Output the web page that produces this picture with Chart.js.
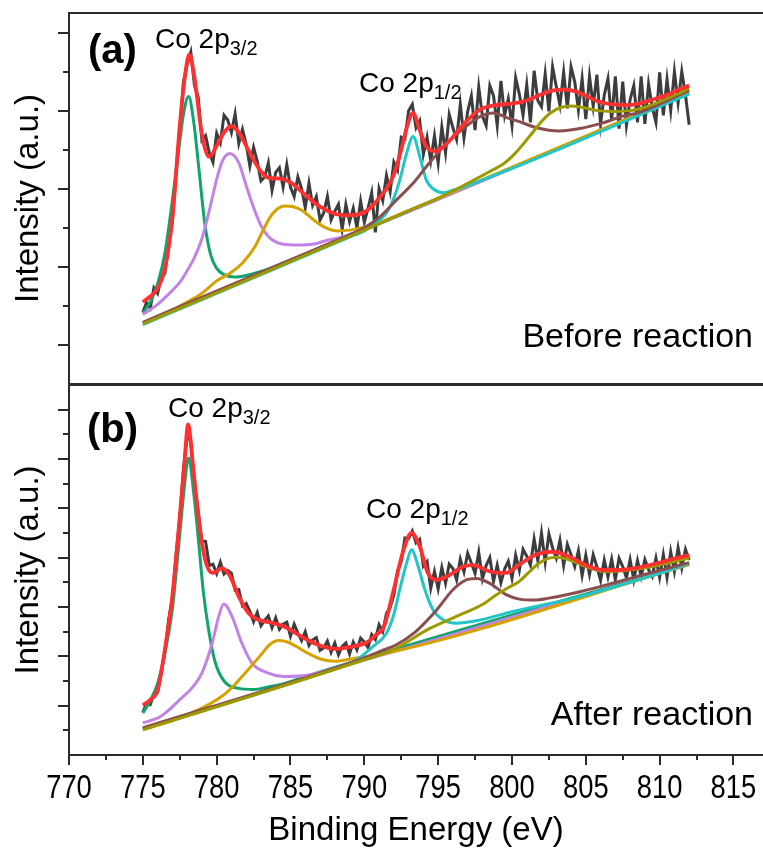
<!DOCTYPE html>
<html>
<head>
<meta charset="utf-8">
<script src="https://cdn.jsdelivr.net/npm/chart.js@4.4.1/dist/chart.umd.min.js"></script>
<style>
html, body { margin: 0; padding: 0; background: #fff; }
#wrap { position: relative; width: 763px; height: 849px; overflow: hidden; }
#panelA { position: absolute; left: 0; top: 0; }
#panelB { position: absolute; left: 0; top: 385px; }
</style>
</head>
<body>
<div id="wrap">
<canvas id="panelA" width="763" height="385"></canvas>
<canvas id="panelB" width="763" height="464"></canvas>
</div>
<script>
// x grid of the measured spectra (775 - 812 eV, 0.25 eV steps)
const energyStart = 775;
const energyStep = 0.25;

// measured counts, panel (a) before reaction
const rawBefore = [
  0.42,0.54,0.47,0.73,0.66,0.86,0.92,1.30,1.57,2.21,2.73,3.37,3.59,3.75,3.32,3.17,
  2.62,2.68,2.46,2.34,2.71,2.59,2.94,2.88,2.72,2.96,2.58,2.76,2.57,2.29,2.53,2.35,
  2.10,2.15,2.33,1.98,2.21,2.27,2.02,2.31,2.02,1.90,2.15,2.00,1.76,2.07,1.79,1.90,
  1.60,1.69,1.90,1.60,1.71,1.80,1.48,1.80,1.58,1.75,1.50,1.84,1.57,1.75,1.95,1.44,
  2.00,1.85,2.17,1.96,2.34,2.24,2.66,2.64,3.00,3.08,2.78,2.87,2.44,2.66,2.36,2.68,
  2.33,2.79,2.46,2.95,2.78,2.63,3.08,2.65,2.99,3.19,2.75,3.30,2.93,2.81,3.32,3.19,
  2.81,3.38,2.94,3.15,2.81,3.42,3.21,2.94,3.33,2.85,3.51,3.13,3.05,3.47,2.99,3.56,
  3.31,3.07,3.49,3.03,3.56,3.37,3.01,3.41,2.89,3.44,3.06,3.46,2.83,3.20,3.41,2.88,
  3.44,2.77,3.37,2.81,3.14,3.32,2.85,3.44,2.83,3.34,3.04,2.85,3.49,2.94,3.40,3.00,
  3.50,3.10,3.50,3.20,2.82
];

// measured counts, panel (b) after reaction
const rawAfter = [
  0.87,1.04,1.02,1.24,1.27,1.65,2.09,2.75,3.17,4.06,4.77,5.80,6.45,6.36,5.47,4.95,
  4.34,4.33,3.84,3.87,3.68,3.91,3.67,3.74,3.68,3.34,3.35,3.02,3.07,2.91,2.70,2.89,
  2.62,2.73,2.82,2.58,2.78,2.55,2.65,2.69,2.41,2.65,2.47,2.32,2.50,2.22,2.33,2.38,
  2.12,2.17,2.31,2.08,2.27,2.03,2.20,2.27,2.05,2.29,2.13,2.37,2.29,2.18,2.44,2.34,
  2.64,2.50,2.87,2.99,3.24,3.73,3.92,4.40,4.39,4.54,4.30,4.37,3.83,3.92,3.38,3.72,
  3.37,3.80,3.48,3.87,3.78,3.55,3.97,3.71,4.09,3.89,3.68,4.11,3.57,3.84,4.00,3.52,
  3.85,3.49,3.77,3.93,3.58,4.05,3.74,4.17,4.03,3.85,4.38,3.94,4.50,3.91,4.48,4.20,
  3.99,4.35,3.84,4.27,4.06,3.82,4.14,3.64,4.05,3.66,4.06,3.82,3.54,3.95,3.61,3.97,
  3.55,3.99,3.82,3.59,3.96,3.55,3.94,3.62,3.96,3.76,3.62,3.99,3.60,4.06,3.60,4.12,
  3.72,4.20,3.79,4.17,3.95
];

// fitted curves, [eV, intensity]
const beforeEnvelope = [[775,0.55],[775.5,0.62],[776,0.72],[776.5,0.98],[777,1.62],[777.5,2.80],[777.8,3.36],[778.15,3.72],[778.5,3.42],[779,2.70],[779.5,2.41],[780,2.55],[780.5,2.72],[781,2.80],[781.5,2.72],[782,2.55],[782.5,2.37],[783,2.22],[783.5,2.14],[784.3,2.13],[785,2.08],[786,1.92],[787,1.77],[788,1.68],[789,1.66],[790,1.70],[790.5,1.77],[791,1.88],[791.5,2.00],[792,2.18],[792.5,2.50],[792.9,2.80],[793.3,2.97],[793.75,2.75],[794.2,2.54],[794.8,2.48],[795.6,2.58],[796.7,2.82],[797.8,3.01],[798.9,3.07],[800,3.09],[801,3.13],[802,3.21],[802.8,3.26],[803.6,3.27],[804.4,3.24],[805,3.19],[805.8,3.12],[806.8,3.08],[807.7,3.07],[808.6,3.09],[809.5,3.14],[810.6,3.21],[811.3,3.27],[812,3.32]];
const beforeP32 = [[775,0.41],[775.5,0.55],[776,0.78],[776.5,1.18],[777,1.85],[777.4,2.45],[777.75,2.95],[778.1,3.18],[778.45,2.85],[778.8,2.25],[779.2,1.55],[779.6,1.15],[780,0.98],[780.5,0.90],[781.2,0.87],[782,0.89],[783,0.94],[784,1.01],[812,3.23]];
const beforeSat1 = [[775,0.39],[776,0.52],[776.8,0.66],[777.5,0.80],[778,0.95],[778.5,1.12],[779,1.36],[779.5,1.72],[780,2.12],[780.4,2.36],[780.9,2.45],[781.5,2.33],[782,2.04],[782.5,1.76],[783,1.53],[783.5,1.39],[784,1.32],[784.5,1.29],[785.5,1.28],[786.5,1.29],[787.5,1.34],[788.5,1.38],[789.5,1.45],[790.5,1.52],[812,3.23]];
const beforeSat2 = [[775,0.28],[777,0.45],[778,0.55],[779,0.66],[780,0.82],[781,0.93],[781.8,1.06],[782.6,1.26],[783.1,1.45],[783.6,1.63],[784.1,1.74],[784.6,1.78],[785.2,1.77],[785.8,1.72],[786.7,1.58],[787.4,1.50],[788.2,1.46],[789,1.47],[789.8,1.50],[790.6,1.53],[791.5,1.60],[812,3.23]];
const beforeP12 = [[775,0.26],[785,1.06],[789,1.38],[790,1.46],[790.8,1.56],[791.5,1.69],[791.96,1.86],[792.4,2.11],[792.86,2.45],[793.3,2.67],[793.76,2.41],[794.2,2.11],[794.66,2.00],[795.3,1.95],[796,1.98],[797,2.04],[812,3.21]];
const beforeSat3 = [[775,0.29],[788,1.33],[789,1.41],[790,1.50],[791.06,1.64],[792.2,1.86],[793.3,2.07],[794.4,2.33],[795.57,2.58],[796.7,2.77],[797.8,2.92],[798.7,2.97],[799.8,2.90],[800.5,2.86],[801.5,2.79],[802.5,2.75],[803.2,2.74],[804.6,2.77],[806.1,2.84],[807.7,2.94],[808.5,2.97],[812,3.26]];
const beforeSat4 = [[775,0.27],[790,1.47],[793,1.72],[795,1.88],[796.2,1.99],[797.5,2.12],[798.5,2.22],[799.5,2.33],[800.2,2.45],[800.8,2.58],[801.4,2.72],[802,2.86],[802.6,2.97],[803.3,3.04],[804,3.06],[804.8,3.04],[805.8,3.00],[806.8,2.99],[808,3.00],[809.1,3.05],[810.2,3.13],[811.2,3.21],[812,3.29]];

const afterEnvelope = [[775,1.01],[775.5,1.12],[776,1.32],[776.5,2.15],[777,3.22],[777.45,4.65],[777.8,5.85],[778.07,6.70],[778.38,5.92],[778.7,5.00],[779,4.29],[779.45,3.76],[779.8,3.69],[780.35,3.79],[780.9,3.63],[781.5,3.21],[782.15,2.88],[782.85,2.74],[783.75,2.68],[784.6,2.60],[785.75,2.40],[786.9,2.23],[788,2.15],[789,2.19],[790.15,2.28],[790.8,2.44],[791.3,2.58],[791.95,3.30],[792.6,4.10],[793.2,4.50],[793.75,4.23],[794.3,3.69],[794.9,3.55],[795.6,3.62],[796.7,3.82],[797.35,3.85],[798.5,3.72],[799.6,3.69],[800.5,3.86],[801.6,4.06],[802.7,4.12],[803.9,4.02],[805,3.85],[806.2,3.75],[807.3,3.75],[808.4,3.79],[810,3.90],[811,3.98],[812,4.05]];
const afterP32 = [[775,0.85],[775.5,1.10],[776,1.45],[776.5,2.08],[777,2.96],[777.4,4.15],[777.75,5.25],[778.1,6.02],[778.45,5.30],[778.8,4.25],[779.1,3.30],[779.45,2.55],[779.9,1.88],[780.5,1.50],[781.5,1.35],[782.5,1.33],[783.5,1.38],[784.5,1.44],[786,1.59],[812,3.87]];
const afterSat1 = [[775,0.65],[776.2,0.78],[777.5,1.12],[778.3,1.35],[779,1.66],[779.7,2.27],[780.14,2.81],[780.48,3.06],[781.04,2.81],[781.7,2.27],[782.4,1.86],[783.5,1.66],[784.6,1.59],[786.2,1.62],[788,1.76],[789,1.84],[812,3.86]];
const afterSat2 = [[775,0.54],[777,0.70],[779,0.95],[780.4,1.20],[781.2,1.42],[782.1,1.72],[783,2.03],[783.6,2.24],[784.2,2.32],[784.8,2.29],[785.4,2.20],[786.2,2.06],[787.1,1.94],[788,1.90],[789,1.94],[790,1.99],[791,2.03],[812,3.86]];
const afterP12 = [[775,0.52],[786,1.55],[788.5,1.80],[789.5,1.93],[790.6,2.20],[791.5,2.47],[791.96,2.81],[792.4,3.35],[792.86,3.89],[793.2,4.16],[793.65,3.82],[794.1,3.35],[794.66,2.94],[795.34,2.74],[796.24,2.67],[797.6,2.72],[800.07,2.91],[804.6,3.21],[809.1,3.60],[812,3.88]];
const afterSat3 = [[775,0.55],[787,1.66],[789,1.86],[790,1.97],[791.06,2.10],[792.2,2.24],[793.4,2.48],[794.9,2.94],[796,3.35],[796.9,3.55],[797.6,3.58],[798.5,3.48],[799.6,3.25],[800.5,3.16],[801.5,3.14],[802.5,3.18],[804.6,3.31],[806.8,3.48],[808.6,3.63],[810,3.74],[812,3.90]];
const afterSat4 = [[775,0.51],[790,1.93],[792,2.14],[794.4,2.56],[796.7,2.87],[798,3.05],[798.95,3.25],[799.8,3.40],[800.5,3.52],[801.2,3.72],[801.8,3.88],[802.4,3.98],[803,4.01],[803.6,3.98],[804.2,3.92],[805.25,3.79],[806.4,3.72],[807.7,3.74],[809.5,3.82],[812,3.99]];

// ticks
const xMajorTicks = [770, 775, 780, 785, 790, 795, 800, 805, 810, 815];
const xMinorTicks = [772.5, 777.5, 782.5, 787.5, 792.5, 797.5, 802.5, 807.5, 812.5];
const yMajorBefore = [0, 1, 2, 3, 4];
const yMinorBefore = [0.5, 1.5, 2.5, 3.5];
const yMajorAfter = [1, 2, 3, 4, 5, 6, 7];
const yMinorAfter = [0.5, 1.5, 2.5, 3.5, 4.5, 5.5, 6.5];

const energy = rawBefore.map((_, i) => energyStart + i * energyStep);

const FONT = "'Liberation Sans', Arial, sans-serif";

const colors = {
    raw: '#3d3d3d',
    envelope: '#ff3030',
    p32: '#10a56e',
    sat1: '#c283e6',
    sat2: '#d6a200',
    p12: '#22c6c8',
    sat3: '#8a4e4e',
    sat4: '#9c9a00'
};

function pairs(list) {
    return list.map(p => ({x: p[0], y: p[1]}));
}

function fitLine(list, color, order, width) {
    return {
        data: pairs(list),
        borderColor: color,
        borderWidth: width || 3,
        pointRadius: 0,
        cubicInterpolationMode: 'monotone',
        fill: false,
        order: order
    };
}

function buildDatasets(raw, env, p32, s1, s2, p12, s3, s4) {
    return [
        fitLine(env, colors.envelope, 1, 3.8),
        fitLine(s4, colors.sat4, 4),
        fitLine(s3, colors.sat3, 5),
        fitLine(p12, colors.p12, 6),
        fitLine(s2, colors.sat2, 7),
        fitLine(s1, colors.sat1, 8),
        fitLine(p32, colors.p32, 9),
        {
            data: raw.map((v, i) => ({x: energy[i], y: v})),
            borderColor: colors.raw,
            borderWidth: 3,
            pointRadius: 0,
            tension: 0,
            fill: false,
            order: 20
        }
    ];
}

// frame, tick marks, tick labels and the text labels
const decor = {
    id: 'decor',
    afterDraw(chart, args, o) {
        const ctx = chart.ctx;
        const a = chart.chartArea;
        const xs = chart.scales.x;
        const ys = chart.scales.y;
        ctx.save();
        ctx.strokeStyle = '#2b2b2b';
        ctx.lineWidth = 2;
        ctx.beginPath();
        ctx.moveTo(a.right + 4, a.top);
        ctx.lineTo(a.left, a.top);
        ctx.lineTo(a.left, a.bottom);
        ctx.lineTo(a.right + 4, a.bottom);
        ctx.stroke();

        ctx.beginPath();
        o.yMajor.forEach(v => {
            const py = Math.round(ys.getPixelForValue(v));
            ctx.moveTo(a.left - 11, py); ctx.lineTo(a.left, py);
        });
        o.yMinor.forEach(v => {
            const py = Math.round(ys.getPixelForValue(v));
            ctx.moveTo(a.left - 6, py); ctx.lineTo(a.left, py);
        });
        if (o.xTicks) {
            xMajorTicks.forEach(v => {
                const px = Math.round(xs.getPixelForValue(v));
                ctx.moveTo(px, a.bottom); ctx.lineTo(px, a.bottom + 10);
            });
            xMinorTicks.forEach(v => {
                const px = Math.round(xs.getPixelForValue(v));
                ctx.moveTo(px, a.bottom); ctx.lineTo(px, a.bottom + 5);
            });
        }
        ctx.stroke();

        ctx.fillStyle = '#000';
        ctx.textBaseline = 'alphabetic';
        if (o.xTicks) {
            // condensed tick numbers, like the original figure
            ctx.font = '33px ' + FONT;
            ctx.textAlign = 'center';
            xMajorTicks.forEach(v => {
                const px = xs.getPixelForValue(v);
                ctx.save();
                ctx.translate(px, a.bottom + 43);
                ctx.scale(0.83, 1);
                ctx.fillText(String(v), 0, 0);
                ctx.restore();
            });
        }
        o.labels.forEach(l => {
            ctx.font = l.font || ('28px ' + FONT);
            ctx.textAlign = l.align || 'left';
            ctx.fillText(l.text, l.x, l.y);
            if (l.sub) {
                const w = ctx.measureText(l.text).width;
                ctx.font = '20px ' + FONT;
                ctx.textAlign = 'left';
                ctx.fillText(l.sub, l.x + w, l.y + 7);
            }
        });
        ctx.restore();
    }
};

function yAxis(min, max) {
    return {
        type: 'linear',
        min: min,
        max: max,
        grid: {display: false, drawTicks: false},
        border: {display: false},
        ticks: {display: false},
        title: {
            display: true,
            text: 'Intensity (a.u.)',
            color: '#000',
            font: {family: FONT, size: 33},
            padding: {top: 9, bottom: 0}
        },
        afterFit(s) { s.width = 69; }
    };
}

new Chart(document.getElementById('panelA'), {
    type: 'line',
    data: {datasets: buildDatasets(rawBefore, beforeEnvelope, beforeP32, beforeSat1, beforeSat2, beforeP12, beforeSat3, beforeSat4)},
    options: {
        responsive: false,
        animation: false,
        devicePixelRatio: 1,
        layout: {padding: {top: 13, bottom: 1, left: 0, right: 0}},
        plugins: {
            legend: {display: false},
            tooltip: {enabled: false},
            decor: {
                yMajor: yMajorBefore,
                yMinor: yMinorBefore,
                xTicks: false,
                labels: [
                    {text: '(a)', x: 88, y: 63, font: 'bold 40px ' + FONT},
                    {text: 'Co 2p', sub: '3/2', x: 155, y: 48},
                    {text: 'Co 2p', sub: '1/2', x: 359, y: 92},
                    {text: 'Before reaction', x: 753, y: 347, align: 'right', font: '34px ' + FONT}
                ]
            }
        },
        scales: {
            x: {type: 'linear', min: 770, max: 817, display: false},
            y: yAxis(-0.5, 4.25)
        }
    },
    plugins: [decor]
});

new Chart(document.getElementById('panelB'), {
    type: 'line',
    data: {datasets: buildDatasets(rawAfter, afterEnvelope, afterP32, afterSat1, afterSat2, afterP12, afterSat3, afterSat4)},
    options: {
        responsive: false,
        animation: false,
        devicePixelRatio: 1,
        layout: {padding: 0},
        plugins: {
            legend: {display: false},
            tooltip: {enabled: false},
            decor: {
                yMajor: yMajorAfter,
                yMinor: yMinorAfter,
                xTicks: true,
                labels: [
                    {text: '(b)', x: 87, y: 57, font: 'bold 40px ' + FONT},
                    {text: 'Co 2p', sub: '3/2', x: 168, y: 32},
                    {text: 'Co 2p', sub: '1/2', x: 366, y: 133},
                    {text: 'After reaction', x: 753, y: 340, align: 'right', font: '34px ' + FONT}
                ]
            }
        },
        scales: {
            x: {
                type: 'linear',
                min: 770,
                max: 817,
                grid: {display: false, drawTicks: false},
                border: {display: false},
                afterBuildTicks(s) { s.ticks = xMajorTicks.map(v => ({value: v})); },
                ticks: {display: false},
                title: {
                    display: true,
                    text: 'Binding Energy (eV)',
                    color: '#000',
                    font: {family: FONT, size: 33, lineHeight: 1.1},
                    padding: {top: 0, bottom: 0}
                },
                afterFit(s) { s.height = 94; }
            },
            y: yAxis(0, 7.5)
        }
    },
    plugins: [decor]
});
</script>
</body>
</html>
